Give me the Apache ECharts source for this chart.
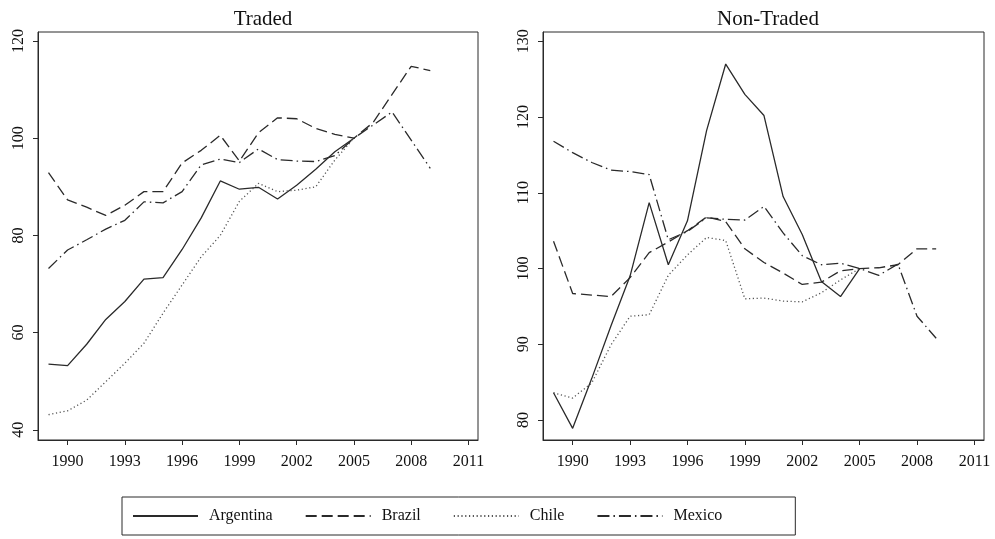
<!DOCTYPE html>
<html>
<head>
<meta charset="utf-8">
<script src="https://cdn.jsdelivr.net/npm/echarts@6/dist/echarts.min.js"></script>
<style>
html, body { margin: 0; padding: 0; background: #fff; }
#chart { width: 995px; height: 539px; }
</style>
</head>
<body>
<div id="chart"></div>
<script>
var years = [1989, 1990, 1991, 1992, 1993, 1994, 1995, 1996, 1997, 1998, 1999,
             2000, 2001, 2002, 2003, 2004, 2005, 2006, 2007, 2008, 2009];
var xTicks = [1990, 1993, 1996, 1999, 2002, 2005, 2008, 2011];
var tradedTicks = [40, 60, 80, 100, 120];
var nonTradedTicks = [80, 90, 100, 110, 120, 130];

// traded sector index (2005 = 100)
var tradedArgentina = [53.5, 53.2, 57.6, 62.7, 66.4, 71.0, 71.3, 77.1, 83.6, 91.2, 89.5,
                       89.9, 87.5, 90.3, 93.6, 97.2, 100, null, null, null, null];
var tradedBrazil = [92.9, 87.3, 85.8, 84.1, 86.2, 89.0, 89.0, 94.9, 97.5, 100.6, 95.3,
                    101.1, 104.2, 104.0, 102.0, 100.8, 100, 103.2, 109.0, 114.8, 113.9];
var tradedChile = [43.1, 43.9, 46.1, 49.9, 53.7, 57.8, 64.0, 69.8, 75.6, 80.0, 87.0,
                   90.7, 89.0, 89.3, 90.0, 95.5, 100, null, null, null, null];
var tradedMexico = [73.2, 77.0, 79.1, 81.3, 83.1, 86.9, 86.7, 89.0, 94.5, 95.7, 95.0,
                    97.8, 95.6, 95.3, 95.2, 96.4, 100, 102.7, 105.4, 99.6, 93.8];

// non-traded sector index (2005 = 100)
var nonTradedArgentina = [83.6, 78.9, 85.5, 92.4, 99.0, 108.7, 100.5, 106.3, 118.2, 127.0, 123.0,
                          120.2, 109.5, 104.5, 98.3, 96.3, 100, null, null, null, null];
var nonTradedBrazil = [103.6, 96.7, 96.5, 96.3, 98.8, 102.1, 103.5, 105.0, 106.8, 106.2, 102.6,
                       100.8, 99.4, 97.9, 98.2, 99.7, 100, 100.1, 100.5, 102.6, 102.6];
var nonTradedChile = [83.6, 82.9, 84.9, 89.9, 93.7, 93.9, 99.1, 101.8, 104.1, 103.7, 96.0,
                      96.1, 95.7, 95.6, 96.8, 98.5, 100, null, null, null, null];
var nonTradedMexico = [116.8, 115.3, 114.0, 113.0, 112.8, 112.4, 103.8, 104.9, 106.7, 106.5, 106.4,
                       108.2, 104.7, 101.7, 100.5, 100.7, 100, 99.1, 100.6, 93.7, 90.8];

var font = 'Liberation Serif';
var ink = '#2a2a2a';

function pairs(vals) {
    return years.map(function (y, i) { return [y, vals[i]]; });
}

var lineTypes = {
    'Argentina': 'solid',
    'Brazil': [11, 5],
    'Chile': [1.2, 2.6],
    'Mexico': [12, 4, 1.5, 4]
};

function makeSeries(name, vals, idx) {
    return {
        name: name,
        type: 'line',
        xAxisIndex: idx,
        yAxisIndex: idx,
        data: pairs(vals),
        symbol: 'none',
        connectNulls: false,
        animation: false,
        lineStyle: { color: name == 'Chile' ? '#555' : ink, width: 1.3, type: lineTypes[name] },
        itemStyle: { color: name == 'Chile' ? '#555' : ink }
    };
}

function xAxisFor(idx) {
    return {
        type: 'value',
        gridIndex: idx,
        min: 1988.45,
        max: 2011.5,
        axisLine: { show: true, lineStyle: { color: ink, width: 1 } },
        axisTick: { show: true, length: 5, customValues: xTicks, lineStyle: { color: ink } },
        axisLabel: {
            customValues: xTicks, fontFamily: font, fontSize: 16, color: '#111', margin: 14,
            formatter: function (v) { return String(v); }
        },
        splitLine: { show: false }
    };
}

function yAxisFor(idx, min, max, ticks) {
    return {
        type: 'value',
        gridIndex: idx,
        min: min,
        max: max,
        axisLine: { show: true, lineStyle: { color: ink, width: 1 } },
        axisTick: { show: true, length: 5, customValues: ticks, lineStyle: { color: ink } },
        axisLabel: { customValues: ticks, rotate: 90, fontFamily: font, fontSize: 16, color: '#111', margin: 11 },
        splitLine: { show: false }
    };
}

var myChart = echarts.init(document.getElementById('chart'), null, { renderer: 'canvas' });
var option = {
    backgroundColor: '#fff',
    animation: false,
    title: [
        { text: 'Traded', left: 258, top: 4, textAlign: 'center',
          textStyle: { fontFamily: font, fontSize: 21, fontWeight: 'normal', color: '#111' } },
        { text: 'Non-Traded', left: 763, top: 4, textAlign: 'center',
          textStyle: { fontFamily: font, fontSize: 21, fontWeight: 'normal', color: '#111' } }
    ],
    legend: {
        data: ['Argentina', 'Brazil', 'Chile', 'Mexico'],
        left: 122,
        top: 497,
        orient: 'horizontal',
        itemWidth: 65,
        itemHeight: 14,
        itemGap: 32,
        padding: [11, 73, 11, 10],
        borderColor: ink,
        borderWidth: 1,
        itemStyle: { opacity: 0 },
        textStyle: { fontFamily: font, fontSize: 16, color: '#111', padding: [0, 0, 0, 6] }
    },
    grid: [
        { left: 38, top: 32, width: 440, height: 408, show: true, borderColor: ink, borderWidth: 1 },
        { left: 543, top: 32, width: 441, height: 408, show: true, borderColor: ink, borderWidth: 1 }
    ],
    xAxis: [xAxisFor(0), xAxisFor(1)],
    yAxis: [
        yAxisFor(0, 37.9, 121.85, tradedTicks),
        yAxisFor(1, 77.36, 131.23, nonTradedTicks)
    ],
    series: [
        makeSeries('Argentina', tradedArgentina, 0),
        makeSeries('Brazil', tradedBrazil, 0),
        makeSeries('Chile', tradedChile, 0),
        makeSeries('Mexico', tradedMexico, 0),
        makeSeries('Argentina', nonTradedArgentina, 1),
        makeSeries('Brazil', nonTradedBrazil, 1),
        makeSeries('Chile', nonTradedChile, 1),
        makeSeries('Mexico', nonTradedMexico, 1)
    ]
};
myChart.setOption(option);
</script>
</body>
</html>
